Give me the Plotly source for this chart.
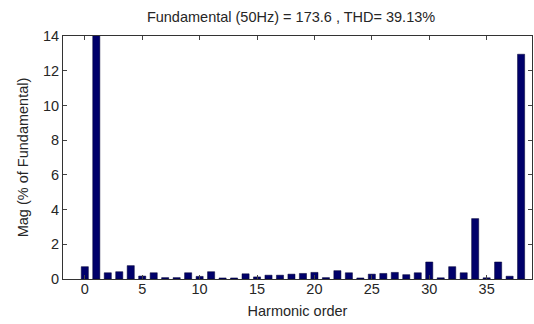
import plotly.graph_objects as go

harmonic_order = list(range(0, 39))
magnitude_pct = [
    0.71, 100.0, 0.36, 0.42, 0.77, 0.17, 0.36, 0.08, 0.08, 0.36,
    0.15, 0.42, 0.06, 0.06, 0.30, 0.12, 0.22, 0.22, 0.28, 0.32,
    0.38, 0.08, 0.48, 0.36, 0.06, 0.28, 0.32, 0.38, 0.25, 0.36,
    0.98, 0.07, 0.71, 0.36, 3.48, 0.07, 0.98, 0.16, 12.95,
]
x_ticks = [0, 5, 10, 15, 20, 25, 30, 35]
y_ticks = [0, 2, 4, 6, 8, 10, 12, 14]
title_text = "Fundamental (50Hz) = 173.6 , THD= 39.13%"

font = "Liberation Sans, Arial, sans-serif"

fig = go.Figure(go.Bar(
    x=harmonic_order, y=magnitude_pct, width=0.62,
    marker=dict(color="#00006a", line=dict(color="#000033", width=0.5)),
))

fig.update_layout(
    width=534, height=324,
    margin=dict(l=63, r=2, t=36, b=45),
    paper_bgcolor="white", plot_bgcolor="white",
    showlegend=False,
    font=dict(family=font, size=14.5, color="#262626"),
    title=dict(text=title_text, x=0.545, xanchor="center", y=0.948, yanchor="middle",
               font=dict(family=font, size=14.5, color="#262626")),
)
fig.update_xaxes(
    range=[-1.9, 38.95], tickvals=x_ticks, ticks="inside", ticklen=4,
    ticklabelstandoff=-3,
    showline=True, linecolor="#333333", linewidth=1, mirror="allticks",
    showgrid=False, zeroline=False,
    title=dict(text="Harmonic order", standoff=9, font=dict(size=14.5)),
)
fig.update_yaxes(
    range=[0, 14], tickvals=y_ticks, ticks="inside", ticklen=4,
    showline=True, linecolor="#333333", linewidth=1, mirror="allticks",
    showgrid=False, zeroline=False,
    title=dict(text="Mag (% of Fundamental)", standoff=10, font=dict(size=14.5)),
)

fig.write_html("out.html")
